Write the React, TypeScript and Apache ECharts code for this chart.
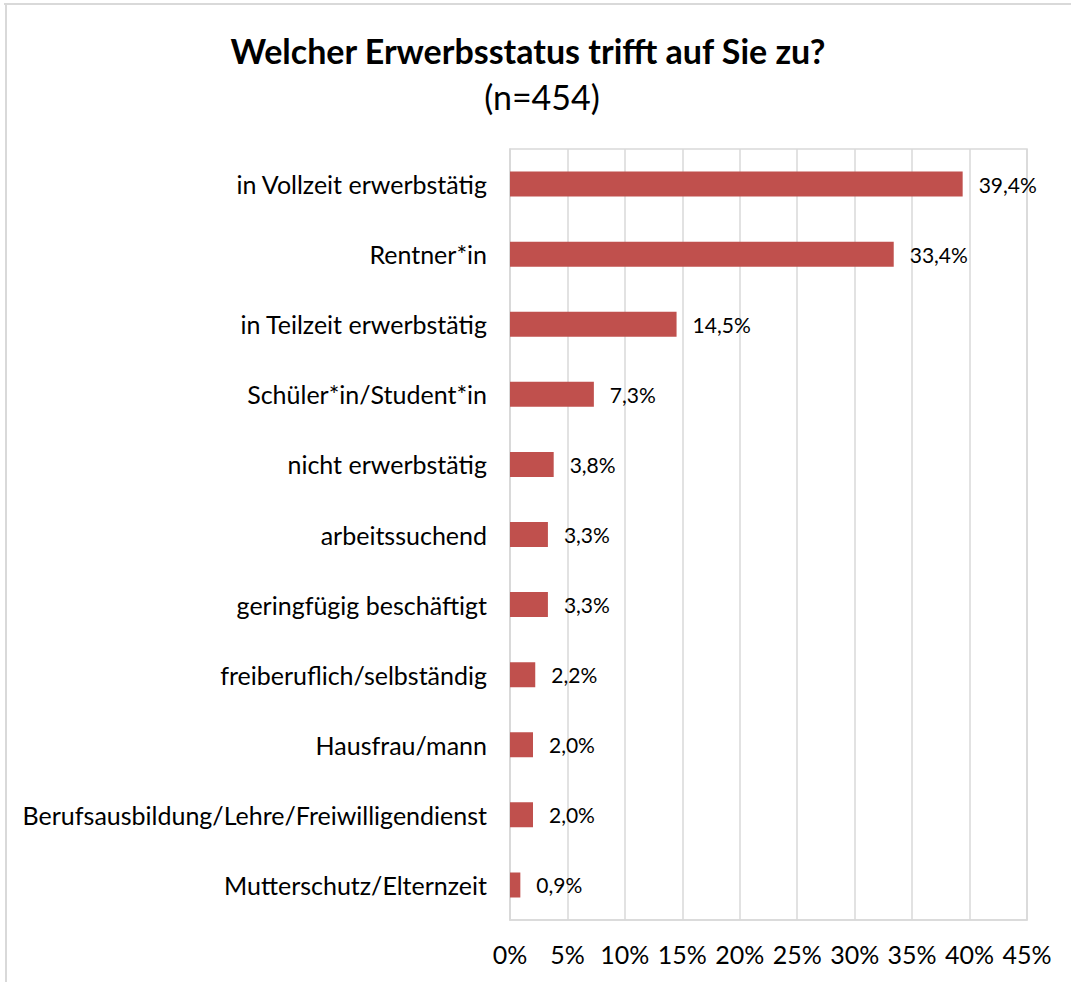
import React, { useEffect, useRef } from "react";
import * as echarts from "echarts";

const categories = [
  "in Vollzeit erwerbstätig",
  "Rentner*in",
  "in Teilzeit erwerbstätig",
  "Schüler*in/Student*in",
  "nicht erwerbstätig",
  "arbeitssuchend",
  "geringfügig beschäftigt",
  "freiberuflich/selbständig",
  "Hausfrau/mann",
  "Berufsausbildung/Lehre/Freiwilligendienst",
  "Mutterschutz/Elternzeit",
];
const values = [39.4, 33.4, 14.5, 7.3, 3.8, 3.3, 3.3, 2.2, 2.0, 2.0, 0.9];
const titleText = "Welcher Erwerbsstatus trifft auf Sie zu?";
const subtitleText = "(n=454)";

const FONT = "Lato, 'Open Sans', sans-serif";

export default function App() {
  const ref = useRef<HTMLDivElement>(null);
  useEffect(() => {
    if (!ref.current) return;
    const chart = echarts.init(ref.current, undefined, { renderer: "svg" });
    chart.setOption({
      animation: false,
      backgroundColor: "#ffffff",
      textStyle: { fontFamily: FONT },
      title: [
        {
          text: titleText,
          left: 523,
          textAlign: "center",
          top: 28,
          textStyle: { fontFamily: FONT, fontSize: 34, fontWeight: "bold", color: "#000" },
        },
        {
          text: subtitleText,
          left: 537,
          textAlign: "center",
          top: 74,
          textStyle: { fontFamily: FONT, fontSize: 34, fontWeight: "normal", color: "#000" },
        },
      ],
      graphic: [
        { type: "line", shape: { x1: 4, y1: 4, x2: 1071, y2: 4 }, style: { stroke: "#d9d9d9", lineWidth: 2 } },
        { type: "line", shape: { x1: 6, y1: 4, x2: 6, y2: 982 }, style: { stroke: "#d9d9d9", lineWidth: 2 } },
      ],
      grid: {
        left: 510,
        right: 44,
        top: 149,
        bottom: 62,
        show: true,
        borderColor: "#d9d9d9",
        borderWidth: 1.5,
      },
      xAxis: {
        type: "value",
        min: 0,
        max: 45,
        interval: 5,
        axisLine: { show: true, lineStyle: { color: "#d9d9d9", width: 1.5 } },
        axisTick: { show: false },
        splitLine: { show: true, lineStyle: { color: "#d9d9d9", width: 1.5 } },
        axisLabel: {
          formatter: (v: number) => `${v}%`,
          fontFamily: FONT,
          fontSize: 25,
          color: "#000",
          margin: 21,
        },
      },
      yAxis: {
        type: "category",
        data: categories,
        inverse: true,
        axisLine: { show: true, lineStyle: { color: "#d9d9d9", width: 1.5 } },
        axisTick: { show: false },
        axisLabel: { fontFamily: FONT, fontSize: 25, color: "#000", margin: 23 },
      },
      series: [
        {
          type: "bar",
          data: values,
          barWidth: 25,
          itemStyle: { color: "#C0504D" },
          label: {
            show: true,
            position: "right",
            distance: 16,
            fontFamily: FONT,
            fontSize: 21,
            color: "#000",
            formatter: (p: any) => `${Number(p.value).toFixed(1).replace(".", ",")}%`,
          },
        },
      ],
    });
    return () => chart.dispose();
  }, []);
  return (
    <div
      ref={ref}
      style={{ position: "fixed", left: 0, top: 0, width: 1071, height: 982 }}
    />
  );
}
